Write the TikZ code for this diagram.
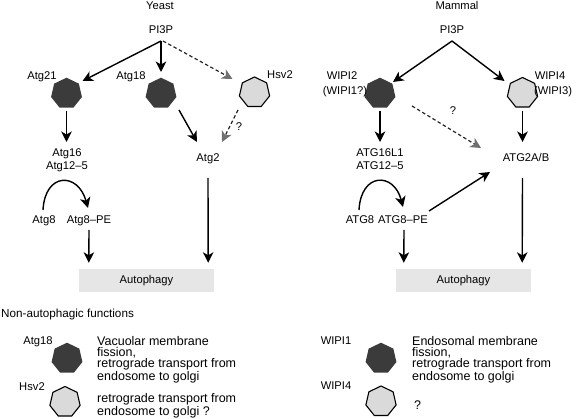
\documentclass[tikz,border=0pt]{standalone}
\usepackage{fontspec}
\setmainfont{Liberation Sans}
\usetikzlibrary{arrows.meta,calc,shapes.geometric}
\definecolor{hexdark}{HTML}{3B3B3B}
\definecolor{hexlight}{HTML}{DADADA}
\definecolor{boxgray}{HTML}{E6E6E6}
\definecolor{tipgray}{HTML}{707070}
\begin{document}
\begin{tikzpicture}[x=1pt,y=-1pt,
  lbl/.style={inner sep=0pt, anchor=base, font=\fontsize{11.2}{12}\selectfont},
  hexd/.style={regular polygon, regular polygon sides=7, minimum size=31.6pt, inner sep=0pt, fill=hexdark},
  hexl/.style={regular polygon, regular polygon sides=7, minimum size=31pt, inner sep=0pt, fill=hexlight, draw=black, line width=1.1pt},
  arr/.style={line width=1.4pt, -{Stealth[length=10.5pt,width=10.5pt,inset=3pt]}},
  darr/.style={line width=1.2pt, black!85, dash pattern=on 3.5pt off 2.5pt, -{Stealth[length=10.5pt,width=10.5pt,inset=3pt,color=tipgray]}},
  autobox/.style={fill=boxgray, minimum width=135pt, minimum height=23pt, inner sep=0pt, font=\fontsize{11.2}{12}\selectfont},
  desc/.style={inner sep=0pt, anchor=north west, align=left, font=\fontsize{12.5}{10.3}\selectfont}
]
\useasboundingbox (0,0) rectangle (578,419);

% ---------- Yeast ----------
\node[lbl] (ytitle) at (160,10) {Yeast};
\node[lbl] (ypi) at (161,34) {PI3P};
\node[hexd] (yh21) at (66.5,93.5) {};
\node[lbl] (yl21) at (42,80) {Atg21};
\node[hexd] (yh18) at (161,93.5) {};
\node[lbl] (yl18) at (131,80) {Atg18};
\node[hexl] (yhsv) at (254.5,92.5) {};
\node[lbl] (ylhsv) at (280,78.5) {Hsv2};
\node[lbl] (yatg16) at (67,157) {Atg16};
\node[lbl] (yatg12) at (67,170) {Atg12–5};
\node[lbl] (yatg2) at (208,162) {Atg2};
\node[lbl] (yq) at (239,131) {?};
\node[lbl] (yatg8) at (44,224) {Atg8};
\node[lbl] (ype) at (89,224) {Atg8–PE};
\node[autobox] (yauto) at (146.5,280.5) {Autophagy};

\draw[arr] ($(ypi.base)+(0,7)$) -- ($(yh21)+(16,-12.5)$);
\draw[arr] ($(ypi.base)+(0,7)$) -- ($(yh18)+(0,-21.5)$);
\draw[darr] ($(ypi.base)+(2,7)$) -- ($(yhsv)+(-22,-13.5)$);
\draw[arr] ($(yh18)+(18,16.5)$) -- ($(yatg2.base)+(-11,-20)$);
\draw[darr] ($(yhsv)+(-16.5,17.5)$) -- ($(yatg2.base)+(14,-20)$);
\draw[arr] ($(yh21)+(0,17.5)$) -- ($(yatg16.base)+(-0.5,-15)$);
\draw[arr] ($(yatg8.base)+(-1,-14)$) .. controls ($(yatg8.base)+(1,-52)$) and ($(ype.base)+(-11,-52)$) .. ($(ype.base)+(-1,-16)$);
\draw[arr] ($(ype.base)+(0,6)$) -- ($(yauto.north west)+(10,-6)$);
\draw[arr] ($(yatg2.base)+(0,16)$) -- ($(yauto.north east)+(-6,-6)$);

% ---------- Mammal ----------
\node[lbl] (mtitle) at (457,10) {Mammal};
\node[lbl] (mpi) at (452,34) {PI3P};
\node[hexd] (mh2) at (380,93.5) {};
\node[lbl] (ml2) at (342,80) {WIPI2};
\node[lbl] (ml2b) at (345,95) {(WIPI1?)};
\node[hexl] (mh4) at (522.5,93) {};
\node[lbl] (ml4) at (550,80) {WIPI4};
\node[lbl] (ml4b) at (553,95) {(WIPI3)};
\node[lbl] (matg16) at (380,157) {ATG16L1};
\node[lbl] (matg12) at (380,170) {ATG12–5};
\node[lbl] (matg2) at (526,162) {ATG2A/B};
\node[lbl] (mq) at (453,115) {?};
\node[lbl] (matg8) at (360,224) {ATG8};
\node[lbl] (mpe) at (403,224) {ATG8–PE};
\node[autobox] (mauto) at (463.5,280.5) {Autophagy};

\draw[arr] ($(mpi.base)+(0,7)$) -- ($(mh2)+(13,-11.5)$);
\draw[arr] ($(mpi.base)+(0,7)$) -- ($(mh4)+(-18,-12)$);
\draw[darr] ($(mh2)+(32,12.5)$) -- ($(matg2.base)+(-45,-14)$);
\draw[arr] ($(mh2)+(0,17.5)$) -- ($(matg16.base)+(0,-15)$);
\draw[arr] ($(mh4)+(0,18)$) -- ($(matg2.base)+(-3.5,-20)$);
\draw[arr] ($(matg8.base)+(-1,-14)$) .. controls ($(matg8.base)+(1,-52)$) and ($(mpe.base)+(-9,-52)$) .. ($(mpe.base)+(0,-17)$);
\draw[arr] ($(mpe.base)+(26,-13)$) -- ($(matg2.base)+(-36,10)$);
\draw[arr] ($(mpe.base)+(1,6)$) -- ($(mauto.north west)+(8,-6)$);
\draw[arr] ($(matg2.base)+(-3.5,16)$) -- ($(mauto.north east)+(-9,-6)$);

% ---------- Non-autophagic functions ----------
\node[lbl, anchor=base west, font=\fontsize{11.7}{12}\selectfont] (nonauto) at (1,318) {Non-autophagic functions};
\node[lbl] (bl18) at (38,344.5) {Atg18};
\node[hexd] (bh18) at (67,358.5) {};
\node[desc] (bt18) at (97,336.6) {Vacuolar membrane\\fission,\\retrograde transport from\\endosome to golgi};
\node[lbl] (blhsv) at (32,390) {Hsv2};
\node[hexl] (bhsv) at (65,402) {};
\node[desc] (bthsv) at (97,393.6) {retrograde transport from\\endosome to golgi ?};
\node[lbl] (bw1l) at (336,344.5) {WIPI1};
\node[hexd] (bw1) at (381,358.5) {};
\node[desc] (bt1) at (412,336.6) {Endosomal membrane\\fission,\\retrograde transport from\\endosome to golgi};
\node[lbl] (bw4l) at (336,389) {WIPI4};
\node[hexl] (bw4) at (381,401.5) {};
\node[lbl, anchor=base west, font=\fontsize{12.5}{12}\selectfont] (bt4) at (414,409) {?};
\end{tikzpicture}
\end{document}
